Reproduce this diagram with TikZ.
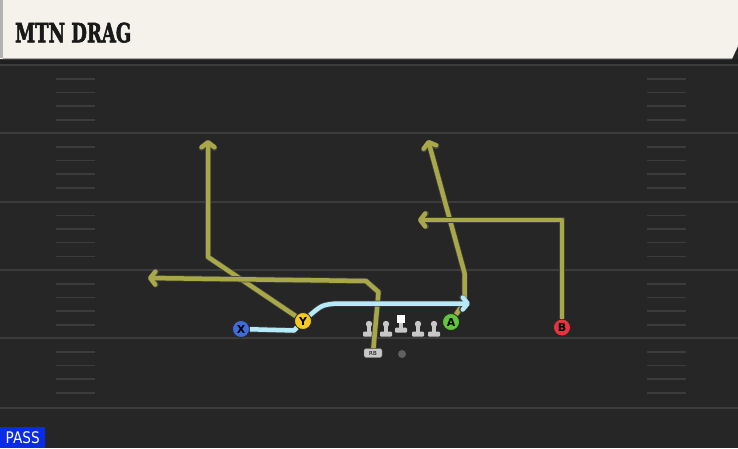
\documentclass[tikz,border=0pt]{standalone}
\usepackage{fontspec}
\usepackage{graphicx}
\usetikzlibrary{arrows.meta}
\newfontfamily\titlefont{DejaVu Serif}[BoldFeatures={FakeBold=2.5}]
\newfontfamily\tagfont{DejaVu Sans}
\definecolor{fieldbg}{RGB}{38,38,38}
\definecolor{yardline}{RGB}{60,60,60}
\definecolor{headbg}{RGB}{245,242,235}
\definecolor{routecol}{RGB}{168,168,72}
\definecolor{dragcol}{RGB}{182,234,248}
\definecolor{xblue}{RGB}{62,108,218}
\definecolor{yyellow}{RGB}{246,200,34}
\definecolor{agreen}{RGB}{98,198,58}
\definecolor{bred}{RGB}{228,52,64}
\definecolor{linegray}{RGB}{200,200,200}
\definecolor{passblue}{RGB}{10,44,230}
\begin{document}
\begin{tikzpicture}[x=1pt,y=-1pt,
    player/.style={circle,draw=black!85,line width=0.8pt,minimum size=17pt,inner sep=0pt,
      font=\tagfont\bfseries\fontsize{11}{11}\selectfont},
    route/.style={draw=routecol,line width=4.5pt,line join=round,
      preaction={draw=black!75,line width=6pt},
      -{Straight Barb[length=5pt,width=13pt,round]}},
    drag/.style={draw=dragcol,line width=4.5pt,line join=round,
      preaction={draw=black!75,line width=6pt}},
  ]
  \useasboundingbox (0,0) rectangle (738,448);
  \fill[fieldbg] (0,0) rectangle (738,448);
  % yard lines and hash marks
  \foreach \y in {65,133,201.7,270,338,408.3}
    \draw[yardline,line width=2pt] (0,\y) -- (738,\y);
  \foreach \y in {65,133,201.7,270,338}
    \foreach \k in {14,27.5,41,55} {
      \draw[yardline,line width=1.5pt] (56,{\y+\k}) -- (95,{\y+\k});
      \draw[yardline,line width=1.5pt] (647,{\y+\k}) -- (686,{\y+\k});
    }
  % header
  \fill[black!88] (0,59) rectangle (738,64);
  \fill[headbg] (0,0) -- (738,0) -- (738,46) -- (732,59) -- (0,59) -- cycle;
  \fill[gray!60] (0,0) rectangle (3.3,58);
  \draw[gray!70,line width=0.8pt] (3,58.6) -- (732,58.6);
  \node[anchor=base west,inner sep=0pt,text=black!90] (title) at (15,42.3)
    {\scalebox{0.68}[1]{\titlefont\bfseries\fontsize{26.5}{26.5}\selectfont MTN DRAG}};
  \node[fill=passblue,anchor=south west,minimum width=45pt,minimum height=21pt,inner sep=0pt,text=white] (pass) at (0,448)
    {\scalebox{0.85}[1]{\tagfont\fontsize{16}{16}\selectfont PASS}};
  % line
  \foreach \lx in {369,386,418,434} {
    \fill[linegray] (\lx,324) circle (3.2pt);
    \fill[linegray] (\lx-1.6,324) rectangle (\lx+1.6,332);
    \fill[linegray,rounded corners=1pt] (\lx-6,331.5) rectangle (\lx+6,336.5);
  }
  \fill[white] (397,314.5) rectangle (405,322.5);
  \fill[linegray] (399.4,322.5) rectangle (402.6,328);
  \fill[linegray,rounded corners=1pt] (395,327.5) rectangle (407,332.5);
  % players
  \node[player,fill=xblue] (X) at (241,329) {X};
  \node[player,fill=yyellow] (Y) at (303,321) {Y};
  \node[player,fill=agreen] (A) at (451,322) {A};
  \node[player,fill=bred] (B) at (562,327.5) {B};
  \node[fill=linegray,draw=black!60,rounded corners=2pt,minimum width=18pt,minimum height=9pt,inner sep=0pt,
    font=\tagfont\fontsize{5.5}{5.5}\selectfont] (RB) at (373,353) {RB};
  \node[circle,fill=gray!75!black,minimum size=8pt,inner sep=0pt] (QB) at (402,354) {};
  % routes
  \coordinate (ybreak) at (208,257);
  \coordinate (yend) at (208,140);
  \draw[route] (Y) -- (ybreak) -- (yend);
  \coordinate (rbup) at (378.5,292);
  \coordinate (rbturn) at (366,281);
  \coordinate (rbend) at (148,278);
  \draw[route] (RB) -- (rbup) -- (rbturn) -- (rbend);
  \coordinate (aout) at (464.5,302);
  \coordinate (abreak) at (464.5,273);
  \coordinate (aend) at (428,140);
  \draw[route] (A) -- (aout) -- (abreak) -- (aend);
  \coordinate (bturn) at (562,220);
  \coordinate (bend) at (418,220);
  \draw[route] (B) -- (bturn) -- (bend);
  % drag
  \coordinate (xbend) at (294,330.5);
  \coordinate (dragtop) at (336,303.5);
  \coordinate (dragend) at (470,303.5);
  \draw[drag] (X) -- (xbend) -- (Y);
  \draw[drag,-{Straight Barb[length=5pt,width=12pt,round]}] (Y) .. controls (322,305) .. (dragtop) -- (dragend);
\end{tikzpicture}
\end{document}
